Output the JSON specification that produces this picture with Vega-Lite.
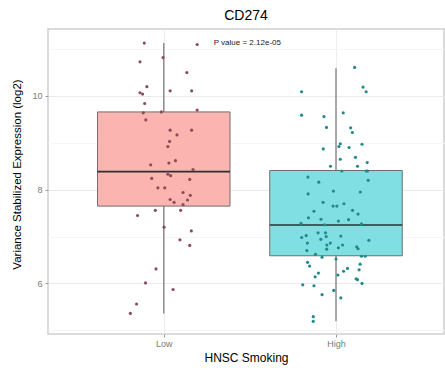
{
  "$schema": "https://vega.github.io/schema/vega-lite/v6.json",
  "width": 396,
  "height": 305,
  "autosize": {"type": "none"},
  "padding": {"left": 48, "top": 29, "right": 1, "bottom": 36},
  "background": "white",
  "title": {"text": "CD274", "fontSize": 14, "font": "Liberation Sans", "fontWeight": "normal", "color": "black", "offset": 6},
  "config": {
    "view": {"stroke": "#cfcfcf", "strokeWidth": 1.5},
    "font": "Liberation Sans"
  },
  "datasets": {
    "pts": [
      {"group": "Low", "pos": 0.887, "value": 11.13},
      {"group": "Low", "pos": 1.194, "value": 11.10},
      {"group": "Low", "pos": 0.996, "value": 10.82},
      {"group": "Low", "pos": 0.862, "value": 10.73},
      {"group": "Low", "pos": 1.134, "value": 10.50},
      {"group": "Low", "pos": 0.902, "value": 10.20},
      {"group": "Low", "pos": 0.862, "value": 10.07},
      {"group": "Low", "pos": 0.877, "value": 10.04},
      {"group": "Low", "pos": 1.037, "value": 10.11},
      {"group": "Low", "pos": 1.162, "value": 10.11},
      {"group": "Low", "pos": 0.889, "value": 9.84},
      {"group": "Low", "pos": 1.194, "value": 9.70},
      {"group": "Low", "pos": 0.881, "value": 9.64},
      {"group": "Low", "pos": 0.986, "value": 9.66},
      {"group": "Low", "pos": 0.896, "value": 9.49},
      {"group": "Low", "pos": 1.037, "value": 9.27},
      {"group": "Low", "pos": 1.162, "value": 9.27},
      {"group": "Low", "pos": 1.077, "value": 9.17},
      {"group": "Low", "pos": 1.034, "value": 9.03},
      {"group": "Low", "pos": 1.024, "value": 8.92},
      {"group": "Low", "pos": 0.924, "value": 8.53},
      {"group": "Low", "pos": 1.030, "value": 8.57},
      {"group": "Low", "pos": 1.068, "value": 8.62},
      {"group": "Low", "pos": 1.170, "value": 8.43},
      {"group": "Low", "pos": 0.930, "value": 8.24},
      {"group": "Low", "pos": 1.024, "value": 8.33},
      {"group": "Low", "pos": 1.040, "value": 8.30},
      {"group": "Low", "pos": 1.151, "value": 8.22},
      {"group": "Low", "pos": 0.966, "value": 8.04},
      {"group": "Low", "pos": 1.006, "value": 8.04},
      {"group": "Low", "pos": 1.112, "value": 7.94},
      {"group": "Low", "pos": 1.154, "value": 7.88},
      {"group": "Low", "pos": 1.037, "value": 7.79},
      {"group": "Low", "pos": 1.060, "value": 7.73},
      {"group": "Low", "pos": 1.138, "value": 7.78},
      {"group": "Low", "pos": 1.112, "value": 7.68},
      {"group": "Low", "pos": 0.951, "value": 7.56},
      {"group": "Low", "pos": 1.098, "value": 7.56},
      {"group": "Low", "pos": 0.848, "value": 7.45},
      {"group": "Low", "pos": 1.002, "value": 7.20},
      {"group": "Low", "pos": 1.160, "value": 7.12},
      {"group": "Low", "pos": 1.094, "value": 6.93},
      {"group": "Low", "pos": 1.151, "value": 6.81},
      {"group": "Low", "pos": 0.955, "value": 6.31},
      {"group": "Low", "pos": 0.894, "value": 6.01},
      {"group": "Low", "pos": 1.054, "value": 5.87},
      {"group": "Low", "pos": 0.842, "value": 5.56},
      {"group": "Low", "pos": 0.806, "value": 5.36},
      {"group": "High", "pos": 2.108, "value": 10.61},
      {"group": "High", "pos": 2.157, "value": 10.19},
      {"group": "High", "pos": 2.175, "value": 10.09},
      {"group": "High", "pos": 1.800, "value": 10.09},
      {"group": "High", "pos": 2.042, "value": 9.64},
      {"group": "High", "pos": 1.800, "value": 9.59},
      {"group": "High", "pos": 1.930, "value": 9.56},
      {"group": "High", "pos": 1.945, "value": 9.33},
      {"group": "High", "pos": 2.085, "value": 9.32},
      {"group": "High", "pos": 2.095, "value": 9.22},
      {"group": "High", "pos": 2.025, "value": 8.98},
      {"group": "High", "pos": 2.151, "value": 8.97},
      {"group": "High", "pos": 2.017, "value": 8.92},
      {"group": "High", "pos": 2.076, "value": 8.90},
      {"group": "High", "pos": 1.926, "value": 8.87},
      {"group": "High", "pos": 2.113, "value": 8.69},
      {"group": "High", "pos": 2.025, "value": 8.65},
      {"group": "High", "pos": 2.181, "value": 8.58},
      {"group": "High", "pos": 1.968, "value": 8.50},
      {"group": "High", "pos": 2.125, "value": 8.50},
      {"group": "High", "pos": 2.034, "value": 8.40},
      {"group": "High", "pos": 2.175, "value": 8.40},
      {"group": "High", "pos": 2.183, "value": 8.40},
      {"group": "High", "pos": 1.837, "value": 8.27},
      {"group": "High", "pos": 2.187, "value": 8.20},
      {"group": "High", "pos": 1.900, "value": 8.16},
      {"group": "High", "pos": 1.985, "value": 7.97},
      {"group": "High", "pos": 2.141, "value": 7.95},
      {"group": "High", "pos": 1.838, "value": 7.91},
      {"group": "High", "pos": 1.925, "value": 7.73},
      {"group": "High", "pos": 2.046, "value": 7.70},
      {"group": "High", "pos": 1.983, "value": 7.65},
      {"group": "High", "pos": 2.005, "value": 7.65},
      {"group": "High", "pos": 2.096, "value": 7.56},
      {"group": "High", "pos": 1.872, "value": 7.54},
      {"group": "High", "pos": 2.128, "value": 7.48},
      {"group": "High", "pos": 1.840, "value": 7.40},
      {"group": "High", "pos": 1.913, "value": 7.37},
      {"group": "High", "pos": 2.073, "value": 7.36},
      {"group": "High", "pos": 2.014, "value": 7.33},
      {"group": "High", "pos": 1.797, "value": 7.28},
      {"group": "High", "pos": 2.148, "value": 7.27},
      {"group": "High", "pos": 1.934, "value": 7.25},
      {"group": "High", "pos": 1.896, "value": 7.08},
      {"group": "High", "pos": 1.939, "value": 7.08},
      {"group": "High", "pos": 1.827, "value": 7.02},
      {"group": "High", "pos": 1.801, "value": 6.98},
      {"group": "High", "pos": 1.943, "value": 7.00},
      {"group": "High", "pos": 2.028, "value": 7.01},
      {"group": "High", "pos": 1.912, "value": 6.94},
      {"group": "High", "pos": 2.191, "value": 6.92},
      {"group": "High", "pos": 1.834, "value": 6.86},
      {"group": "High", "pos": 1.967, "value": 6.86},
      {"group": "High", "pos": 1.947, "value": 6.82},
      {"group": "High", "pos": 2.038, "value": 6.82},
      {"group": "High", "pos": 2.120, "value": 6.78},
      {"group": "High", "pos": 2.128, "value": 6.74},
      {"group": "High", "pos": 1.831, "value": 6.70},
      {"group": "High", "pos": 1.946, "value": 6.73},
      {"group": "High", "pos": 2.014, "value": 6.76},
      {"group": "High", "pos": 1.881, "value": 6.62},
      {"group": "High", "pos": 1.919, "value": 6.56},
      {"group": "High", "pos": 2.000, "value": 6.52},
      {"group": "High", "pos": 2.148, "value": 6.58},
      {"group": "High", "pos": 2.170, "value": 6.58},
      {"group": "High", "pos": 1.835, "value": 6.45},
      {"group": "High", "pos": 1.847, "value": 6.37},
      {"group": "High", "pos": 2.140, "value": 6.41},
      {"group": "High", "pos": 2.067, "value": 6.32},
      {"group": "High", "pos": 2.134, "value": 6.29},
      {"group": "High", "pos": 2.044, "value": 6.26},
      {"group": "High", "pos": 2.011, "value": 6.18},
      {"group": "High", "pos": 1.898, "value": 6.22},
      {"group": "High", "pos": 1.879, "value": 6.14},
      {"group": "High", "pos": 2.117, "value": 6.10},
      {"group": "High", "pos": 2.125, "value": 6.08},
      {"group": "High", "pos": 2.151, "value": 6.00},
      {"group": "High", "pos": 1.807, "value": 5.97},
      {"group": "High", "pos": 1.872, "value": 5.95},
      {"group": "High", "pos": 1.987, "value": 5.85},
      {"group": "High", "pos": 1.919, "value": 5.76},
      {"group": "High", "pos": 2.028, "value": 5.69},
      {"group": "High", "pos": 1.868, "value": 5.29},
      {"group": "High", "pos": 1.868, "value": 5.19}
    ],
    "box": [
      {"group": "Low", "pos": 1, "lower": 5.36, "q1": 7.65, "median": 8.385, "q3": 9.66, "upper": 11.13},
      {"group": "High", "pos": 2, "lower": 5.19, "q1": 6.59, "median": 7.245, "q3": 8.41, "upper": 10.59}
    ],
    "ann": [
      {"label": "P value = 2.12e-05", "pos": 1.29, "value": 11.13}
    ]
  },
  "layer": [
    {
      "data": {"name": "box"},
      "mark": {"type": "rule", "color": "#8f8f8f", "strokeWidth": 1.5},
      "encoding": {
        "x": {"field": "pos", "type": "quantitative"},
        "y": {"field": "lower", "type": "quantitative"},
        "y2": {"field": "upper"}
      }
    },
    {
      "data": {"name": "box"},
      "mark": {"type": "bar", "width": 132.5, "stroke": "#6e6e6e", "strokeWidth": 1},
      "encoding": {
        "x": {"field": "pos", "type": "quantitative"},
        "y": {"field": "q1", "type": "quantitative"},
        "y2": {"field": "q3"},
        "fill": {"field": "group", "type": "nominal", "scale": {"domain": ["Low", "High"], "range": ["#fbb4b0", "#80dfe2"]}, "legend": null}
      }
    },
    {
      "data": {"name": "box"},
      "mark": {"type": "tick", "orient": "horizontal", "size": 132.5, "thickness": 1.6, "color": "#2f2f2f", "opacity": 1},
      "encoding": {
        "x": {"field": "pos", "type": "quantitative"},
        "y": {"field": "median", "type": "quantitative"}
      }
    },
    {
      "data": {"name": "pts"},
      "mark": {"type": "circle", "size": 10, "opacity": 1},
      "encoding": {
        "x": {"field": "pos", "type": "quantitative"},
        "y": {"field": "value", "type": "quantitative"},
        "color": {"field": "group", "type": "nominal", "scale": {"domain": ["Low", "High"], "range": ["#8b4c55", "#22898a"]}, "legend": null}
      }
    },
    {
      "data": {"name": "ann"},
      "mark": {"type": "text", "align": "left", "baseline": "middle", "fontSize": 8, "color": "#222222", "font": "Liberation Sans"},
      "encoding": {
        "x": {"field": "pos", "type": "quantitative"},
        "y": {"field": "value", "type": "quantitative"},
        "text": {"field": "label"}
      }
    }
  ],
  "encoding": {
    "x": {
      "type": "quantitative",
      "scale": {"domain": [0.357, 2.598], "nice": false, "zero": false},
      "axis": {
        "title": "HNSC Smoking",
        "values": [1, 2],
        "labelExpr": "datum.value == 1 ? 'Low' : 'High'",
        "grid": true,
        "gridColor": "#ededed",
        "domain": false,
        "tickColor": "#9a9a9a",
        "tickSize": 3,
        "labelColor": "#7a7a7a",
        "labelFontSize": 9,
        "labelPadding": 2,
        "titleFontSize": 12,
        "titleFontWeight": "normal",
        "titleColor": "black",
        "titlePadding": 4
      }
    },
    "y": {
      "type": "quantitative",
      "scale": {"domain": [4.92, 11.43], "nice": false, "zero": false},
      "axis": {
        "title": "Variance Stabilized Expression (log2)",
        "values": [5, 6, 7, 8, 9, 10, 11],
        "labelExpr": "datum.value % 2 == 0 ? datum.label : ''",
        "grid": true,
        "gridColor": {"condition": {"test": "datum.value % 2 == 0", "value": "#ebebeb"}, "value": "#f6f6f6"},
        "tickColor": {"condition": {"test": "datum.value % 2 == 0", "value": "#9a9a9a"}, "value": "transparent"},
        "domain": false,
        "tickSize": 3,
        "labelColor": "#7a7a7a",
        "labelFontSize": 9,
        "labelPadding": 3,
        "titleFontSize": 11.5,
        "titleFontWeight": "normal",
        "titleColor": "black",
        "titlePadding": 9,
        "titleY": 145
      }
    }
  }
}
